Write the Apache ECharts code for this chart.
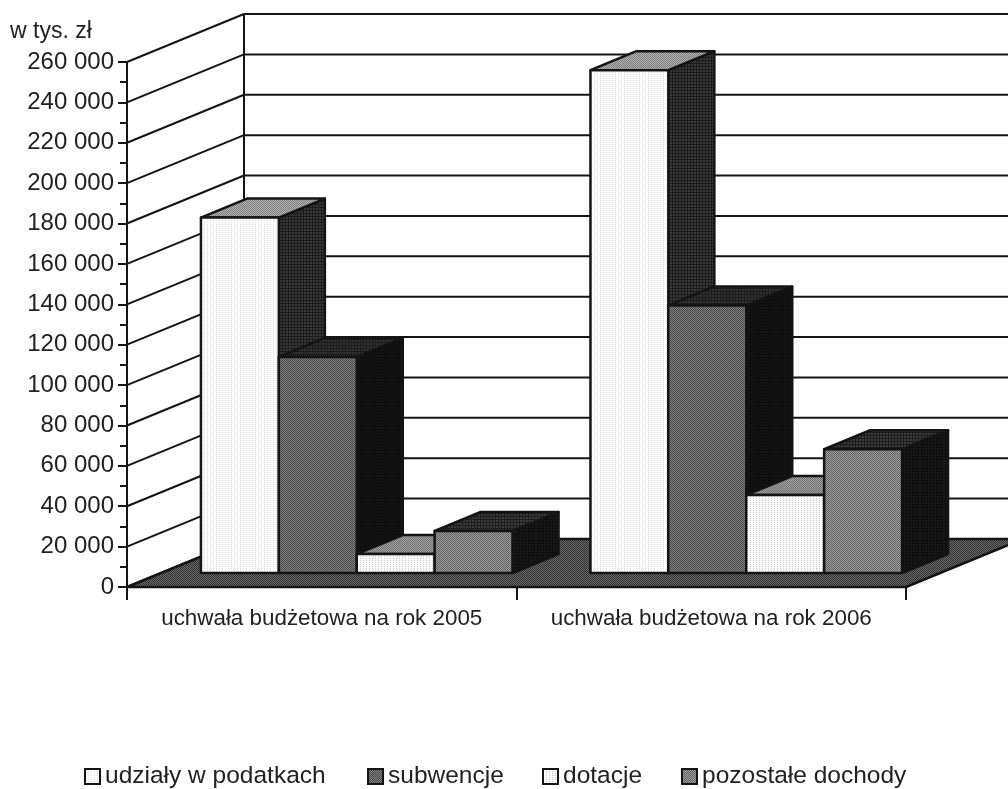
<!DOCTYPE html>
<html>
<head>
<meta charset="utf-8">
<title>Dochody budżetu</title>
<script src="https://cdn.jsdelivr.net/npm/echarts@6/dist/echarts.min.js"></script>
<style>
  html, body { margin: 0; padding: 0; background: #fff; }
  #chart { width: 1008px; height: 789px; }
</style>
</head>
<body>
<div id="chart"></div>
<script>
const categories = ['uchwała budżetowa na rok 2005', 'uchwała budżetowa na rok 2006']
const udzialy = [176000, 249000]
const subwencje = [107000, 132500]
const dotacje = [9400, 38600]
const pozostale = [20800, 61300]
const yTicks = [0, 20000, 40000, 60000, 80000, 100000, 120000, 140000, 160000, 180000, 200000, 220000, 240000, 260000]
const seriesNames = ['udziały w podatkach', 'subwencje', 'dotacje', 'pozostałe dochody']
const seriesValues = [udzialy, subwencje, dotacje, pozostale]
const legendLefts = [84, 367, 542, 681]

// projection of the 3D box, in pixels
const wallX = 117
const wallY = 48
const barStartX = 35
const barStartY = 14
const barDepthX = 46
const barDepthY = 19
const ink = '#141414'

// small dither tiles, the scan of the original looks like this
function tile (a, b, test) {
  const c = document.createElement('canvas')
  c.width = 6
  c.height = 6
  const ctx = c.getContext('2d')
  for (let x = 0; x < 6; x++) {
    for (let y = 0; y < 6; y++) {
      ctx.fillStyle = test(x, y) ? a : b
      ctx.fillRect(x, y, 1, 1)
    }
  }
  return { image: c, repeat: 'repeat' }
}
const checker = (x, y) => (x + y) % 2 === 0
const sparse = (x, y) => x % 3 === 0 && y % 2 === 0
const grid = (x, y) => x % 3 === 0 || y % 3 === 0

const faces = [
  { front: tile('#dcdcdc', '#fdfdfd', sparse), top: tile('#7c7c7c', '#b4b4b4', checker), side: tile('#1c1c1c', '#3a3a3a', grid) },
  { front: tile('#464646', '#848484', checker), top: tile('#1c1c1c', '#333333', grid), side: tile('#0e0e0e', '#151515', grid) },
  { front: tile('#c8c8c8', '#fbfbfb', sparse), top: tile('#6e6e6e', '#a4a4a4', checker), side: tile('#1c1c1c', '#3a3a3a', grid) },
  { front: tile('#5e5e5e', '#a2a2a2', checker), top: tile('#1e1e1e', '#3c3c3c', grid), side: tile('#0e0e0e', '#1a1a1a', grid) }
]
const floorFill = tile('#2e2e2e', '#6c6c6c', checker)

function poly (points, fill) {
  return {
    type: 'polygon',
    shape: { points },
    style: { fill, stroke: ink, lineWidth: 2.5, lineJoin: 'round' }
  }
}

function renderWall (params, api) {
  const rect = params.coordSys
  const p = api.coord([0, api.value(0)])
  const children = [
    { type: 'line', shape: { x1: rect.x, y1: p[1], x2: rect.x + wallX, y2: p[1] - wallY }, style: { stroke: ink, lineWidth: 2 } },
    { type: 'line', shape: { x1: rect.x + wallX, y1: p[1] - wallY, x2: api.getWidth(), y2: p[1] - wallY }, style: { stroke: ink, lineWidth: 2 } }
  ]
  if (params.dataIndex === 0) {
    children.push({ type: 'line', shape: { x1: rect.x + wallX, y1: rect.y - wallY, x2: rect.x + wallX, y2: rect.y + rect.height - wallY }, style: { stroke: ink, lineWidth: 2 } })
  }
  return { type: 'group', children }
}

function renderFloor (params, api) {
  const rect = params.coordSys
  const y = rect.y + rect.height
  const x = rect.x
  const r = rect.x + rect.width
  return poly([[x, y], [r, y], [r + wallX, y - wallY], [x + wallX, y - wallY]], floorFill)
}

function renderBar (index) {
  return function (params, api) {
    const catWidth = api.size([1, 0])[0]
    const barWidth = catWidth / 5
    const center = api.coord([api.value(0), 0])
    const left = center[0] - catWidth / 2 + barWidth / 2 + barStartX + index * barWidth
    const right = left + barWidth
    const bottom = center[1] - barStartY
    const top = api.coord([api.value(0), api.value(1)])[1] - barStartY
    const face = faces[index]
    return {
      type: 'group',
      children: [
        poly([[right, top], [right + barDepthX, top - barDepthY], [right + barDepthX, bottom - barDepthY], [right, bottom]], face.side),
        poly([[left, top], [right, top], [right + barDepthX, top - barDepthY], [left + barDepthX, top - barDepthY]], face.top),
        poly([[left, top], [right, top], [right, bottom], [left, bottom]], face.front)
      ]
    }
  }
}

const chart = echarts.init(document.getElementById('chart'))
const font = '"Liberation Sans", Arial, sans-serif'

const barSeries = seriesNames.map((name, i) => ({
  name,
  type: 'custom',
  renderItem: renderBar(i),
  clip: false,
  encode: { x: 0, y: 1 },
  data: seriesValues[i].map((v, c) => [c, v])
}))

chart.setOption({
  animation: false,
  backgroundColor: '#fff',
  title: {
    text: 'w tys. zł',
    left: 10,
    top: 20,
    padding: 0,
    textStyle: { fontFamily: font, fontSize: 23, fontWeight: 'normal', color: '#222' }
  },
  grid: { left: 127, top: 62, width: 779, height: 525 },
  legend: seriesNames.map((name, i) => ({
    data: [name],
    left: legendLefts[i],
    top: 764,
    padding: 0,
    icon: 'rect',
    itemWidth: 15,
    itemHeight: 15,
    itemGap: 5,
    selectedMode: false,
    itemStyle: { color: faces[i].front, borderColor: ink, borderWidth: 2 },
    textStyle: { fontFamily: font, fontSize: 24.5, color: '#222' }
  })),
  xAxis: {
    type: 'category',
    data: categories,
    axisLine: { lineStyle: { color: ink, width: 2 } },
    axisTick: { show: true, alignWithLabel: false, length: 13, lineStyle: { color: ink, width: 2 } },
    axisLabel: { interval: 0, margin: 21, fontFamily: font, fontSize: 22.4, color: '#222' }
  },
  yAxis: {
    type: 'value',
    min: 0,
    max: 260000,
    interval: 20000,
    axisLine: { show: true, lineStyle: { color: ink, width: 2 } },
    axisTick: { show: true, length: 9, lineStyle: { color: ink, width: 2 } },
    minorTick: { show: true, splitNumber: 2, length: 7, lineStyle: { color: ink, width: 2 } },
    splitLine: { show: false },
    axisLabel: {
      margin: 13,
      fontFamily: font,
      fontSize: 24,
      color: '#222',
      formatter: v => String(v).replace(/\B(?=(\d{3})+$)/g, ' ')
    }
  },
  series: [
    { type: 'custom', renderItem: renderWall, clip: false, silent: true, encode: { y: 0 }, data: yTicks.map(v => [v]) },
    { type: 'custom', renderItem: renderFloor, clip: false, silent: true, data: [[0, 0]] }
  ].concat(barSeries)
})

window.addEventListener('resize', () => chart.resize())
</script>
</body>
</html>
